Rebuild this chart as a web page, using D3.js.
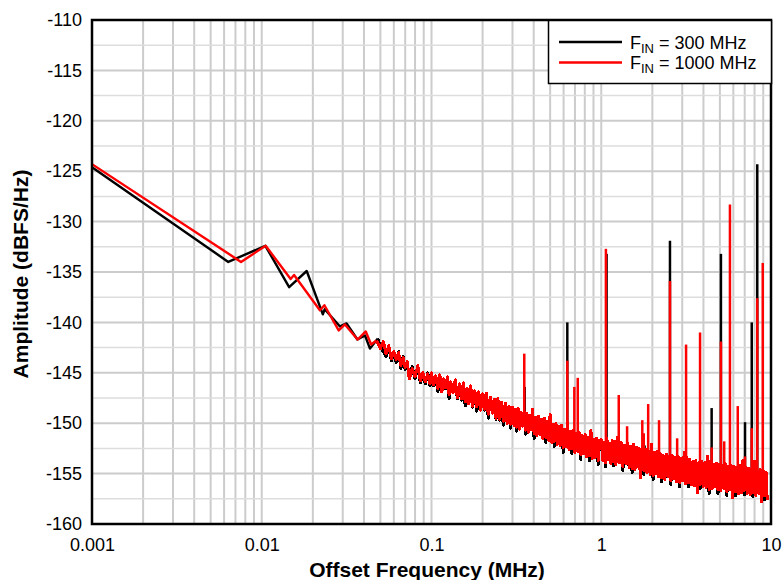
<!DOCTYPE html>
<html>
<head>
<meta charset="utf-8">
<script src="https://cdn.jsdelivr.net/npm/d3@7"></script>
<style>
  body { margin: 0; background: #fff; }
  svg { display: block; font-family: "Liberation Sans", Arial, sans-serif; }
</style>
</head>
<body>
<div id="chart"></div>
<script>
// Asks JavaScript to show more errors.
"use strict";

/*
 * # Data
 * Frequencies are in MHz, amplitudes in dBFS/Hz.
 */
// close-in part of each trace, [freq, dB]
var blackLow = [[0.001, -124.6], [0.00635, -134.0], [0.0105, -132.4], [0.0145, -136.5],
  [0.0184, -134.9], [0.0229, -139.2], [0.0235, -138.7], [0.0289, -140.4], [0.0316, -140.1],
  [0.0366, -141.7], [0.0406, -141.3], [0.0434, -142.6], [0.0483, -141.6]];
var redLow = [[0.001, -124.3], [0.00755, -134.0], [0.01055, -132.4], [0.0148, -135.7],
  [0.0155, -135.3], [0.022, -138.8], [0.0234, -138.3], [0.0284, -140.8], [0.0309, -140.2],
  [0.0367, -141.7], [0.041, -140.9], [0.0441, -142.2], [0.0474, -141.8]];

// noise floor, both traces share the frequency bins
var noiseFreq = [
  0.050, 0.052, 0.054, 0.056, 0.058, 0.060, 0.062, 0.064, 0.066, 0.068,
  0.070, 0.072, 0.074, 0.077, 0.080, 0.083, 0.086, 0.089, 0.092, 0.095,
  0.098,
  0.100, 0.103, 0.106, 0.109, 0.112, 0.115, 0.118, 0.121, 0.124, 0.127,
  0.130, 0.134, 0.138, 0.142, 0.146, 0.150, 0.154, 0.158, 0.162, 0.166,
  0.170, 0.175, 0.180, 0.185, 0.190, 0.195, 0.200, 0.205, 0.210, 0.216,
  0.222, 0.228, 0.234, 0.240, 0.246, 0.252, 0.258, 0.265, 0.272, 0.279,
  0.286, 0.293,
  0.300, 0.306, 0.312, 0.318, 0.324, 0.330, 0.337, 0.344, 0.351, 0.358,
  0.365, 0.372, 0.379, 0.386, 0.394, 0.402, 0.410, 0.418, 0.426, 0.435,
  0.444, 0.453, 0.462, 0.471, 0.480, 0.490, 0.500, 0.510, 0.520, 0.530,
  0.541, 0.552, 0.563, 0.574, 0.585, 0.597, 0.609, 0.621, 0.633, 0.646,
  0.659, 0.672, 0.685, 0.699, 0.713, 0.727, 0.742, 0.757, 0.772, 0.787,
  0.803, 0.819, 0.835, 0.852, 0.869, 0.886, 0.904, 0.922, 0.940, 0.959,
  0.978,
  1.00, 1.02, 1.04, 1.06, 1.08, 1.10, 1.12, 1.14, 1.16, 1.18,
  1.20, 1.22, 1.25, 1.28, 1.31, 1.34, 1.37, 1.40, 1.43, 1.46,
  1.49, 1.52, 1.55, 1.58, 1.61, 1.64, 1.67, 1.70, 1.74, 1.78,
  1.82, 1.86, 1.90, 1.94, 1.98, 2.02, 2.06, 2.10, 2.14, 2.18,
  2.22, 2.27, 2.32, 2.37, 2.42, 2.47, 2.52, 2.57, 2.62, 2.67,
  2.72, 2.78, 2.84, 2.90, 2.96, 3.02, 3.08, 3.14, 3.20, 3.26,
  3.33, 3.40, 3.47, 3.54, 3.61, 3.68, 3.75, 3.83, 3.91, 3.99,
  4.07, 4.15, 4.23, 4.32, 4.41, 4.50, 4.59, 4.68, 4.77, 4.87,
  4.97, 5.07, 5.17, 5.27, 5.38, 5.49, 5.60, 5.71, 5.82, 5.94,
  6.06, 6.18, 6.30, 6.43, 6.56, 6.69, 6.82, 6.96, 7.10, 7.24,
  7.38, 7.53, 7.68, 7.83, 7.99, 8.15, 8.31, 8.48, 8.65, 8.82,
  9.00, 9.18, 9.36, 9.50
];

var blackNoise = [
  -142.4, -142.9, -143.4, -142.5, -143.8, -143.2, -144.0, -142.9, -144.6, -143.4,
  -144.7, -144.2, -145.3, -144.4, -145.6, -144.5, -146.0, -145.2, -146.1, -145.0,
  -146.3,
  -145.2, -146.3, -145.5, -146.9, -145.3, -146.9, -145.8, -146.6, -145.5, -147.6,
  -146.0, -147.0, -145.9, -147.6, -146.2, -147.7, -146.2, -148.3, -146.6, -148.1,
  -146.5, -148.4, -146.9, -148.8, -147.0, -148.7, -147.2, -148.7, -147.2, -149.5,
  -147.5, -149.0, -147.7, -149.6, -147.7, -149.7, -148.0, -150.2, -148.2, -150.0,
  -148.4, -150.5,
  -148.6, -150.2, -148.8, -150.8, -148.7, -150.6, -149.1, -150.3, -149.0, -151.1,
  -149.2, -150.9, -149.4, -150.6, -149.0, -151.5, -149.6, -151.2, -149.5, -151.1,
  -149.8, -151.5, -149.7, -151.9, -150.0, -151.7, -149.5, -151.9, -150.3, -152.3,
  -150.2, -152.1, -150.5, -152.2, -150.4, -152.9, -150.8, -152.3, -150.2, -152.6,
  -151.0, -153.0, -150.9, -152.9, -151.2, -152.8, -151.1, -153.6, -151.4, -153.0,
  -151.3, -153.3, -151.6, -153.7, -151.0, -153.5, -151.8, -153.4, -151.7, -154.1,
  -151.9,
  -151.8, -153.7, -152.1, -154.3, -151.7, -153.6, -152.2, -154.0, -151.9, -154.2,
  -152.0, -154.1, -151.6, -153.9, -152.1, -154.7, -152.4, -154.0, -152.2, -154.4,
  -152.5, -154.9, -152.3, -154.6, -152.6, -154.3, -152.7, -155.4, -152.5, -155.1,
  -152.8, -154.9, -153.0, -155.1, -152.3, -155.6, -153.1, -155.0, -153.0, -155.3,
  -153.2, -155.8, -153.4, -155.6, -153.3, -155.3, -153.5, -156.1, -153.4, -155.5,
  -153.6, -155.8, -153.5, -156.3, -153.7, -155.7, -153.1, -156.0, -153.6, -156.3,
  -153.8, -156.1, -154.0, -156.2, -153.9, -156.9, -154.1, -156.5, -154.0, -156.3,
  -154.1, -156.4, -153.5, -157.0, -154.0, -156.5, -154.3, -156.3, -154.2, -157.0,
  -154.3, -156.7, -154.4, -156.5, -154.2, -157.2, -154.5, -156.6, -154.4, -157.4,
  -154.5, -157.2, -154.6, -157.0, -154.4, -156.9, -153.9, -157.1, -154.6, -157.0,
  -154.7, -157.1, -154.8, -157.3, -154.0, -157.2, -154.9, -157.0, -154.8, -157.8,
  -154.9, -157.6, -155.1, -157.6
];

var redNoise = [
  -142.6, -141.9, -143.1, -142.3, -143.6, -142.9, -143.7, -143.0, -144.3, -143.5,
  -144.5, -143.9, -145.6, -144.6, -145.4, -144.3, -145.8, -145.0, -145.9, -145.1,
  -146.1,
  -145.0, -146.2, -145.3, -146.6, -145.2, -146.9, -145.6, -146.5, -145.4, -147.2,
  -145.9, -147.0, -145.7, -147.5, -146.1, -147.6, -146.0, -147.9, -146.5, -148.1,
  -146.3, -148.3, -146.8, -148.4, -146.9, -148.7, -147.1, -148.6, -147.0, -149.1,
  -147.4, -149.0, -147.6, -149.5, -147.5, -149.6, -147.9, -149.8, -148.0, -150.0,
  -148.3, -150.1,
  -148.4, -150.2, -148.6, -150.4, -148.5, -150.6, -148.9, -150.3, -148.8, -150.7,
  -149.0, -150.9, -149.2, -150.6, -148.6, -151.0, -149.4, -151.2, -149.3, -151.1,
  -149.6, -151.5, -149.5, -151.4, -149.8, -151.7, -149.1, -151.9, -150.1, -151.8,
  -150.0, -152.1, -150.3, -152.2, -150.2, -152.4, -150.6, -152.3, -149.9, -152.6,
  -150.8, -152.5, -150.7, -152.9, -151.0, -152.8, -150.9, -153.1, -151.2, -153.0,
  -151.1, -153.3, -151.4, -153.2, -150.7, -153.5, -151.6, -153.4, -151.5, -153.7,
  -151.7,
  -151.6, -153.7, -151.9, -153.9, -151.5, -153.6, -152.0, -154.0, -151.7, -153.8,
  -151.8, -154.1, -151.4, -153.9, -151.9, -154.3, -152.2, -154.0, -152.0, -154.4,
  -152.3, -154.5, -152.1, -154.6, -152.4, -154.3, -152.5, -155.4, -152.3, -154.7,
  -152.6, -154.9, -152.8, -155.1, -152.1, -155.2, -152.9, -155.0, -152.8, -155.3,
  -153.0, -155.4, -153.2, -155.6, -153.1, -155.3, -153.3, -155.7, -153.2, -155.5,
  -153.4, -155.8, -153.3, -155.9, -153.5, -155.7, -152.9, -156.0, -153.4, -155.9,
  -153.6, -156.1, -153.8, -156.2, -153.7, -156.9, -153.9, -156.1, -153.8, -156.3,
  -153.9, -156.4, -153.3, -156.6, -153.8, -156.5, -154.1, -156.3, -154.0, -156.6,
  -154.1, -156.7, -154.2, -156.5, -154.0, -156.8, -154.3, -156.6, -154.2, -157.4,
  -154.3, -156.8, -154.4, -157.0, -154.2, -156.9, -153.7, -156.7, -154.4, -157.0,
  -154.5, -157.1, -154.6, -156.9, -153.8, -157.2, -154.7, -157.0, -154.6, -157.8,
  -154.7, -157.2, -154.9, -157.6
];

// spurs: [freq, peak dB, floor dB]
var blackSpurs = [[0.354, -146.4, -149.5], [0.631, -140.0, -151.0], [1.075, -133.2, -152.5],
  [1.80, -152.2, -154.5], [2.54, -131.9, -154.5], [4.47, -148.5, -155.5], [5.07, -133.2, -155.5],
  [7.03, -149.9, -156.0], [7.70, -140.0, -156.0], [8.30, -124.3, -156.0]];
var redSpurs = [[0.352, -143.1, -149.3], [0.631, -143.8, -151.0], [0.694, -146.4, -151.2],
  [0.727, -145.5, -151.2], [1.065, -132.7, -152.5], [1.268, -147.2, -153.0], [1.42, -150.3, -153.5],
  [1.745, -149.7, -154.0], [1.78, -151.0, -154.0], [1.89, -148.1, -154.0], [2.19, -149.7, -154.5],
  [2.54, -135.9, -154.5], [2.80, -151.5, -155.0], [3.16, -142.2, -155.0], [3.82, -141.0, -155.0],
  [4.47, -152.4, -155.5], [5.07, -141.9, -155.5], [5.30, -151.8, -155.5], [5.73, -128.3, -155.5],
  [6.37, -148.3, -155.5], [7.03, -153.3, -156.0], [7.70, -150.5, -156.0], [8.30, -137.6, -156.0],
  [8.94, -134.1, -156.0]];

var yTicks = [-160, -155, -150, -145, -140, -135, -130, -125, -120, -115, -110];
var xTicks = [0.001, 0.01, 0.1, 1, 10];
var xTickLabels = ["0.001", "0.01", "0.1", "1", "10"];
var seriesNames = ["300 MHz", "1000 MHz"];
var seriesColors = ["#000000", "#ff0000"];

/*
 * # Boilerplate Code for d3.js
 */
var margin = { top: 20, right: 12, bottom: 56, left: 92 },
    width = 783 - margin.left - margin.right,
    height = 580 - margin.top - margin.bottom;

var root = d3.select("#chart")
             .append("svg")
             .attr("width", 783)
             .attr("height", 580);

var svg = root.append("g")
              .attr("transform", "translate(" + margin.left + "," + margin.top + ")");

// Scales
var xScale = d3.scaleLog()
               .domain([0.001, 10])
               .range([0, width]);
var yScale = d3.scaleLinear()
               .domain([-160, -110])
               .range([height, 0]);

// Grid
svg.selectAll(".vgrid")
   .data(xScale.ticks())
   .enter()
   .append("line")
   .attr("x1", function (d) { return xScale(d); })
   .attr("x2", function (d) { return xScale(d); })
   .attr("y1", 0)
   .attr("y2", height)
   .attr("stroke", "#cccccc")
   .attr("stroke-width", 2);

svg.selectAll(".hgrid")
   .data(d3.range(-157.5, -110, 2.5))
   .enter()
   .append("line")
   .attr("x1", 0)
   .attr("x2", width)
   .attr("y1", function (d) { return yScale(d); })
   .attr("y2", function (d) { return yScale(d); })
   .attr("stroke", function (d) { return d % 5 === 0 ? "#cccccc" : "#dddddd"; })
   .attr("stroke-width", function (d) { return d % 5 === 0 ? 2 : 1.5; });

// Clip traces to the plot frame
svg.append("clipPath")
   .attr("id", "plotclip")
   .append("rect")
   .attr("width", width)
   .attr("height", height);

var plot = svg.append("g").attr("clip-path", "url(#plotclip)");

var line = d3.line()
             .x(function (d) { return xScale(d[0]); })
             .y(function (d) { return yScale(d[1]); });

var traces = [
  { low: blackLow, noise: blackNoise, spurs: blackSpurs, color: seriesColors[0] },
  { low: redLow, noise: redNoise, spurs: redSpurs, color: seriesColors[1] }
];

traces.forEach(function (t) {
  // smooth close-in part
  plot.append("path")
      .datum(t.low)
      .attr("d", line)
      .attr("fill", "none")
      .attr("stroke", t.color)
      .attr("stroke-width", 2.4)
      .attr("stroke-linejoin", "round");

  // dense noise floor, no antialias so the band reads solid
  var pts = [t.low[t.low.length - 1]].concat(d3.zip(noiseFreq, t.noise));
  plot.append("path")
      .datum(pts)
      .attr("d", line)
      .attr("fill", "none")
      .attr("stroke", t.color)
      .attr("stroke-width", 3)
      .attr("stroke-linejoin", "round")
      .attr("shape-rendering", "crispEdges");

  plot.selectAll(null)
      .data(t.spurs)
      .enter()
      .append("line")
      .attr("x1", function (d) { return xScale(d[0]); })
      .attr("x2", function (d) { return xScale(d[0]); })
      .attr("y1", function (d) { return yScale(d[1]); })
      .attr("y2", function (d) { return yScale(d[2]); })
      .attr("stroke", t.color)
      .attr("stroke-width", 2.5);
});

// Frame
svg.append("rect")
   .attr("width", width)
   .attr("height", height)
   .attr("fill", "none")
   .attr("stroke", "#000")
   .attr("stroke-width", 2.5);

// Axes
var yAxis = d3.axisLeft(yScale)
              .tickValues(yTicks)
              .tickSize(0)
              .tickPadding(10)
              .tickFormat(function (d) { return String(d); });
var gy = svg.append("g").call(yAxis);

var xAxis = d3.axisBottom(xScale)
              .tickValues(xTicks)
              .tickSize(0)
              .tickPadding(14)
              .tickFormat(function (d, i) { return xTickLabels[i]; });
var gx = svg.append("g")
            .attr("transform", "translate(0," + height + ")")
            .call(xAxis);

[gx, gy].forEach(function (g) {
  g.select(".domain").remove();
  g.selectAll("text")
   .attr("fill", "#000")
   .style("font-size", "18px")
   .style("font-family", "'Liberation Sans', Arial, sans-serif");
});

// Axis titles
root.append("text")
    .attr("x", 427)
    .attr("y", 577)
    .attr("text-anchor", "middle")
    .style("font-size", "21px")
    .style("font-weight", "bold")
    .text("Offset Frequency (MHz)");

root.append("text")
    .attr("transform", "translate(28,274) rotate(-90)")
    .attr("text-anchor", "middle")
    .style("font-size", "21px")
    .style("font-weight", "bold")
    .text("Amplitude (dBFS/Hz)");

// Legend
var legend = root.append("g").attr("transform", "translate(548,20)");
legend.append("rect")
      .attr("x", 0.5)
      .attr("y", 0.5)
      .attr("width", 223)
      .attr("height", 63)
      .attr("fill", "#fff")
      .attr("stroke", "#000")
      .attr("stroke-width", 1.5);

seriesNames.forEach(function (name, i) {
  var yy = 22 + i * 20.5;
  legend.append("line")
        .attr("x1", 11)
        .attr("x2", 74)
        .attr("y1", yy)
        .attr("y2", yy)
        .attr("stroke", seriesColors[i])
        .attr("stroke-width", 2.5);
  var t = legend.append("text")
                .attr("x", 82)
                .attr("y", yy + 6.5)
                .style("font-size", "18px");
  t.append("tspan").text("F");
  t.append("tspan").attr("dy", 4).style("font-size", "13px").text("IN");
  t.append("tspan").attr("dy", -4).text(" = " + name);
});
</script>
</body>
</html>
